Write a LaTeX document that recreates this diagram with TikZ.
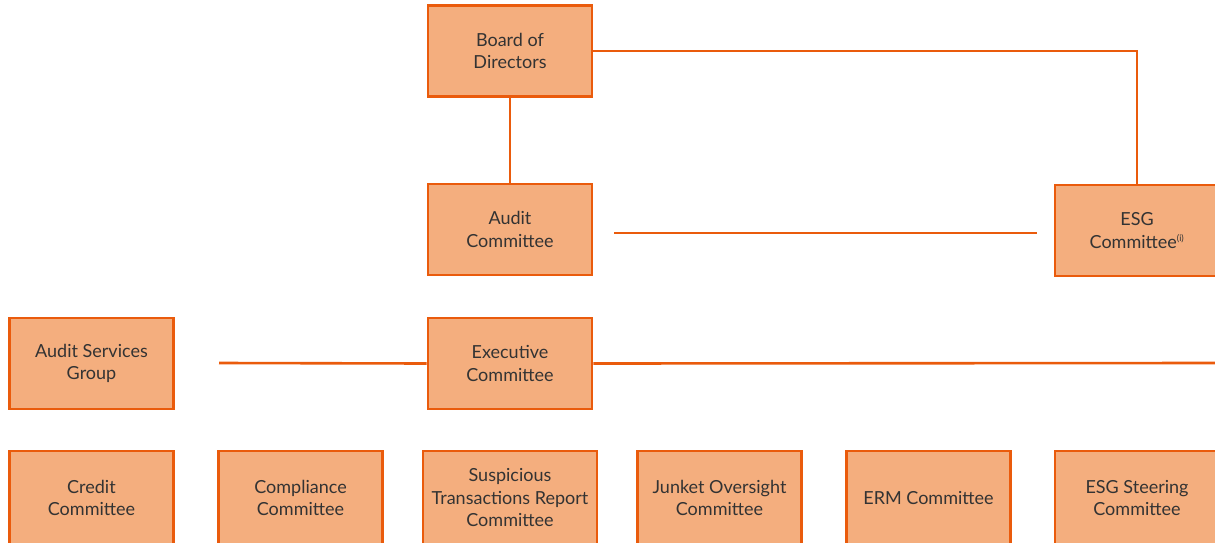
\documentclass[tikz,border=0pt]{standalone}
\usepackage{fontspec}
\setmainfont{Lato}
\definecolor{boxfill}{HTML}{F4AE7E}
\definecolor{boxline}{HTML}{EA5B0C}
\definecolor{txt}{HTML}{333333}
\begin{document}
\begin{tikzpicture}[x=1pt,y=-1pt,
  box/.style={draw=boxline, fill=boxfill, line width=2.8pt, rectangle, inner sep=0pt,
    minimum width=164pt, minimum height=91pt, align=center, text=txt,
    font=\fontsize{18}{22.5}\selectfont},
  link/.style={draw=boxline, line width=2.6pt}]
\useasboundingbox (0,0) rectangle (1215,543);
\clip (0,0) rectangle (1215,543);
\node[box] (board) at (510,51) {Board of\\Directors};
\node[box] (audit) at (510,229.5) {Audit\\Committee};
\node[box] (esg) at (1137,230.5) {ESG\\Committee\textsuperscript{\fontsize{9}{9}\selectfont (i)}};
\node[box] (asg) at (91.5,363.5) {Audit Services\\Group};
\node[box] (exec) at (510,363.5) {Executive\\Committee};
\node[box, minimum height=94pt] (credit) at (91.5,498) {Credit\\Committee};
\node[box, minimum height=94pt] (compl) at (300.5,498) {Compliance\\Committee};
\node[box, minimum height=94pt, minimum width=174pt] (str) at (510,498) {Suspicious\\Transactions Report\\Committee};
\node[box, minimum height=94pt] (junket) at (719.5,498) {Junket Oversight\\Committee};
\node[box, minimum height=94pt] (erm) at (928.5,498) {ERM Committee};
\node[box, minimum height=94pt] (esgs) at (1137,498) {ESG Steering\\Committee};
\coordinate (acL) at (614,233);
\coordinate (acR) at (1037,233);
\coordinate (asgR) at (219,363);
\coordinate (exR) at (1220,363);
\draw[link] (board.south) -- (audit.north);
\draw[link] (board.east) -| (esg.north);
\draw[link] (acL) -- (acR);
\draw[link] (asgR) -- (exec.west);
\draw[link] (exec.east) -- (exR);
\end{tikzpicture}
\end{document}
